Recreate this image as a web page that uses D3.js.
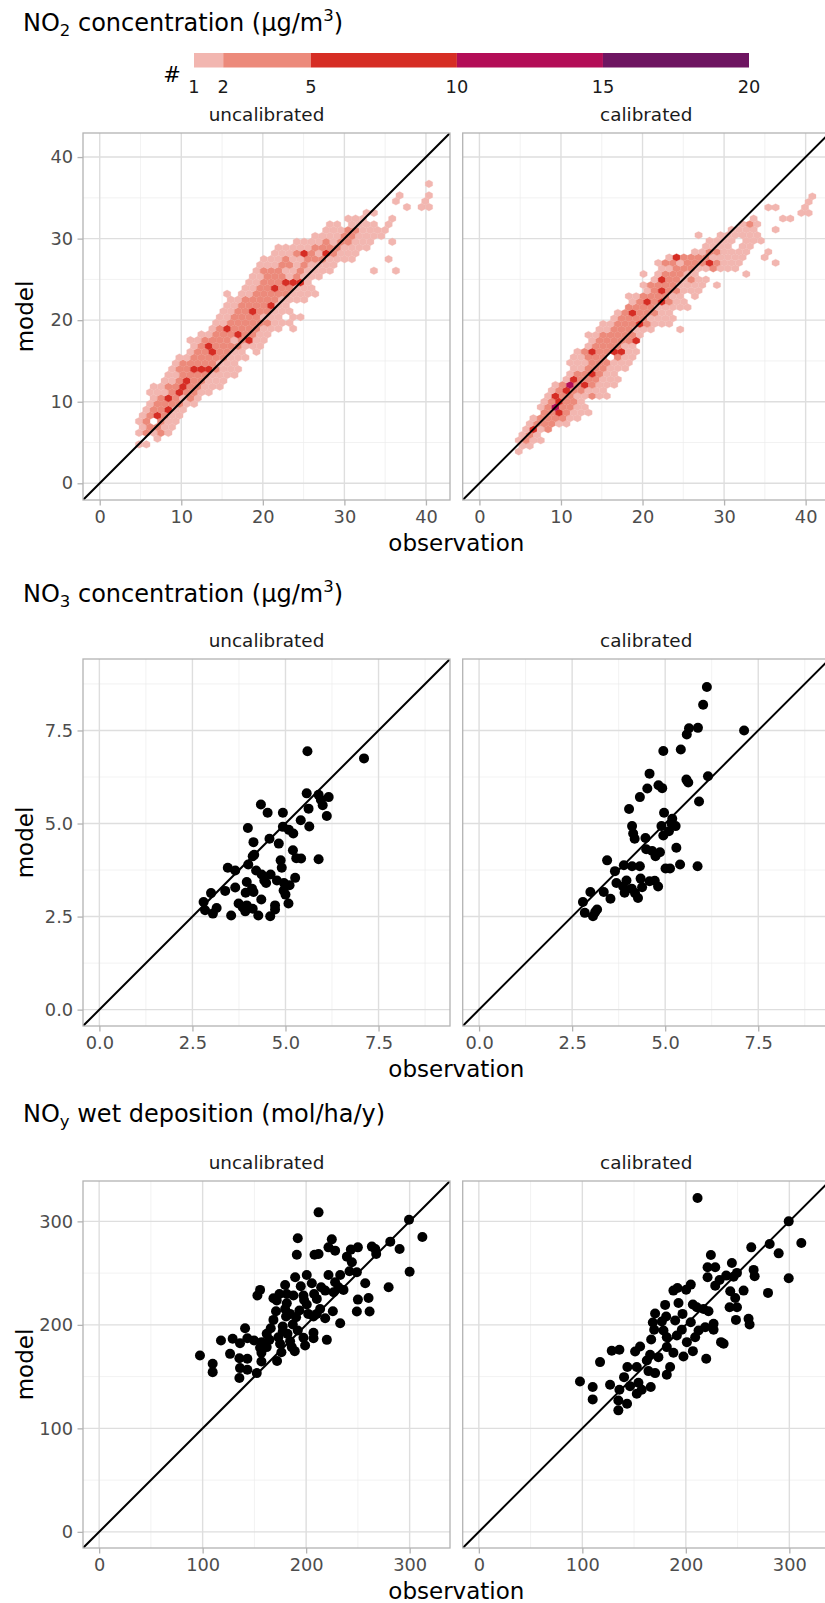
<!DOCTYPE html>
<html lang="en">
<head>
  <meta charset="UTF-8">
  <title>model vs observation</title>
  <script src="https://cdn.jsdelivr.net/npm/d3@7"></script>
  <style>
    body { margin: 0; background: #fff; }
    text { font-family: "DejaVu Sans", sans-serif; }
  </style>
</head>
<body>
<script>
// ---------- data ----------
var facetLabels = ["uncalibrated", "calibrated"];

// hexbin counts legend
var countBreaks = [1, 2, 5, 10, 15, 20];
var countColors = ["#f2b6b0", "#ec8a7b", "#d62d24", "#b30d57", "#6e1561"];
// count class -> representative count
var classCount = { "1": 1, "2": 3, "3": 7, "4": 12, "5": 17 };

var no2Ticks = [0, 10, 20, 30, 40];
var no3Ticks = [0, 2.5, 5, 7.5];
var noyTicks = [0, 100, 200, 300];

// hex bins: obs = obs0 + bw * (col + 0.5 * (row odd)), model = mod0 + rh * row
var no2UncalGrid = { obs0: 0.32, bw: 0.9, mod0: 4.76, rh: 0.71 };
var no2CalGrid = { obs0: 0.32, bw: 0.9, mod0: 3.9, rh: 0.68 };

// [row, first column, count class per column ('.' = empty)]
var no2UncalHex = [
  [0, 5, "11"], [1, 7, "1"], [2, 5, "12121"], [3, 5, "12211"],
  [4, 5, "12.211"], [5, 5, "123211"], [6, 6, "122311"], [7, 6, "1222211"],
  [8, 7, "1232121"], [9, 6, "111232211"], [10, 7, "1122322111"], [11, 8, "112322111"],
  [12, 9, "1122221111"], [13, 9, "1223332111"], [14, 10, "122222111"], [15, 10, "1122222111"],
  [16, 12, "12232211.1"], [17, 12, "1232222111"], [18, 12, "11222212311"], [19, 13, "1122232211"],
  [20, 15, "1232222111.1"], [21, 15, "11222222111"], [22, 16, "112222111.11"], [23, 16, "1122322111"],
  [24, 17, "112222311"], [25, 17, "11222221111"], [26, 17, "1.11222221111"], [27, 19, "1122322111"],
  [28, 20, "112223331"], [29, 20, "1122212111"], [30, 21, "12221121111.....1..1"], [31, 21, "11122121111"],
  [32, 22, "1112112221111....1"], [33, 23, "111232132111"], [34, 24, "1111122221111"], [35, 26, "11112122111..1"],
  [36, 29, "1111221111"], [37, 30, "111221111"], [38, 31, "11.1111.1"], [39, 33, "111...1"],
  [40, 36, "11"], [41, 41, "1.11"], [42, 40, "1...1"], [43, 40, "1...1"], [45, 44, "1"]
];

var no2CalHex = [
  [0, 5, "1"], [1, 5, "11"], [2, 5, "1211"], [3, 5, "121"],
  [4, 6, "1312"], [5, 6, "122211"], [6, 7, "1222211"], [7, 8, "2232111"],
  [8, 8, "1242211"], [9, 8, "123221"], [10, 9, "132211211"], [11, 9, "12322111"],
  [12, 10, "124232111"], [13, 11, "13222111"], [14, 12, "1223211"], [15, 12, "11222111"],
  [16, 12, "111222111"], [17, 12, "11222.211"], [18, 13, "123223311"], [19, 14, "1222211"],
  [20, 15, "1222223"], [21, 14, "11222221"], [22, 16, "11222111...1"], [23, 16, "1122232111"],
  [24, 18, "122221111"], [25, 18, "12322211"], [26, 20, "222211111"], [27, 20, "12323211"],
  [28, 20, "11222211.1"], [29, 22, "12322111"], [30, 22, "122221111.1"], [31, 23, "13221211"],
  [32, 22, "1.122211......1"], [33, 24, "11222112111"], [34, 24, "122122232111....1"], [35, 25, "13222211111..1"],
  [36, 29, "11221111..1"], [37, 30, "1111.11"], [38, 31, "1111.111"], [39, 29, "1..111111"],
  [40, 34, "1111..1"], [41, 35, "121"], [42, 37, "1...11"], [43, 43, "11"],
  [44, 39, "11...1"], [45, 44, "1"], [46, 45, "1"]
];

// [observation, model]
var no3Uncal = [
  [5.59, 6.94], [7.11, 6.75], [5.57, 5.81], [5.89, 5.77], [6.16, 5.71], [5.95, 5.64], [6.0, 5.49],
  [6.11, 5.2], [5.62, 5.4], [5.64, 4.92], [5.41, 5.09], [4.34, 5.51], [4.52, 5.29], [4.93, 5.29],
  [4.93, 4.91], [5.09, 4.83], [5.21, 4.73], [3.99, 4.88], [4.57, 4.59], [4.82, 4.46], [4.14, 4.5],
  [4.16, 4.16], [4.12, 4.12], [5.2, 4.28], [5.29, 4.07], [5.42, 4.06], [5.89, 4.04], [4.87, 4.01],
  [4.9, 3.81], [4.0, 3.9], [4.21, 3.74], [3.45, 3.81], [3.65, 3.74], [4.36, 3.63], [4.6, 3.63],
  [4.43, 3.47], [4.48, 3.4], [4.77, 3.47], [5.26, 3.54], [4.96, 3.4], [5.11, 3.34], [3.96, 3.43],
  [4.1, 3.25], [3.65, 3.28], [3.38, 3.19], [3.93, 3.14], [4.14, 3.16], [4.95, 3.2], [5.0, 3.09],
  [3.0, 3.13], [4.35, 2.96], [5.08, 2.85], [2.8, 2.89], [3.74, 2.85], [3.96, 2.8], [4.72, 2.8],
  [4.12, 2.71], [3.92, 2.64], [3.15, 2.73], [2.84, 2.67], [3.05, 2.58], [3.54, 2.53], [4.27, 2.53],
  [4.59, 2.51], [4.72, 2.69], [3.85, 2.75]
];

var no3Cal = [
  [6.12, 8.67], [6.02, 8.19], [5.64, 7.56], [5.88, 7.57], [5.58, 7.39], [7.12, 7.5], [4.95, 6.95],
  [5.42, 6.99], [4.58, 6.34], [5.57, 6.18], [5.62, 6.1], [6.15, 6.27], [4.82, 6.03], [4.92, 5.95],
  [4.52, 5.94], [4.32, 5.71], [4.03, 5.39], [5.91, 5.59], [4.97, 5.29], [5.19, 5.13], [5.17, 5.0],
  [5.28, 4.93], [4.9, 4.93], [4.11, 4.93], [5.1, 4.79], [4.14, 4.73], [4.95, 4.68], [4.18, 4.59],
  [4.47, 4.61], [5.3, 4.35], [4.49, 4.31], [4.65, 4.26], [4.86, 4.23], [4.74, 4.12], [3.44, 4.01],
  [5.4, 3.9], [5.87, 3.85], [3.89, 3.88], [4.11, 3.85], [4.32, 3.85], [5.01, 3.79], [5.13, 3.79],
  [3.65, 3.72], [4.34, 3.52], [3.96, 3.47], [3.69, 3.4], [4.58, 3.45], [4.72, 3.46], [4.81, 3.31],
  [4.1, 3.25], [3.87, 3.31], [4.38, 3.29], [2.99, 3.16], [3.35, 3.16], [3.91, 3.14], [4.19, 3.13],
  [3.53, 2.98], [4.27, 3.0], [2.79, 2.89], [3.17, 2.69], [2.84, 2.6], [3.06, 2.51], [3.12, 2.62]
];

var noyUncal = [
  [212, 308.7], [299.4, 301.6], [312.3, 284.9], [191.9, 283.6], [224.8, 282.6], [281.3, 280.4],
  [290.3, 273.3], [250, 274.9], [263.5, 275.6], [266.8, 273.3], [267.7, 268.5], [243.2, 272.7],
  [221.6, 274.9], [228, 271.7], [191, 267.8], [208.1, 267.8], [212, 268.5], [239.4, 265.9],
  [244.2, 260.5], [241.9, 251.8], [249, 250.8], [300, 251.4], [200.6, 248.2], [221.6, 248.2],
  [189.4, 246], [232.9, 248.2], [228, 241.2], [257.1, 240.2], [179.7, 238.6], [205.5, 240.2],
  [194.8, 237.3], [155.5, 233.8], [152.9, 228.3], [168.4, 225.7], [174.2, 229.9], [181.3, 229.9],
  [187.7, 228.3], [207.7, 229.9], [218.4, 233.1], [236.1, 233.8], [279.7, 236.3], [210.3, 225.1],
  [250, 224.4], [260.3, 226], [197.4, 228.3], [181.3, 220.9], [200.6, 219.6], [213.5, 215.4],
  [193.5, 213.8], [170.9, 213.2], [225.8, 213.2], [249, 212.9], [261.3, 212.9], [180.6, 208],
  [190.3, 207.4], [207.1, 208], [218.4, 206.4], [232.9, 201.6], [168.4, 204.8], [187.1, 200.3],
  [165.8, 196.8], [177.4, 198.4], [191.9, 194.5], [141, 196.8], [182, 191.3], [207.1, 192.3],
  [197.4, 187.5], [207.1, 187.1], [220, 185.5], [117.7, 184.9], [129, 186.5], [143.2, 187.1],
  [149.7, 184.9], [136.1, 182.3], [164.5, 185.5], [173.2, 188.1], [161.9, 178.5], [155.5, 177.8],
  [174.8, 181.7], [184.5, 184.2], [126.5, 172], [135.5, 167.8], [143.2, 167.2], [156.8, 173],
  [176.1, 173.6], [186.1, 178.5], [189, 174.6], [97.4, 170.4], [109.7, 162.4], [109.7, 154.3],
  [156.8, 164.6], [171.9, 165], [136.1, 158.2], [143.2, 156.6], [152.3, 153.4], [135.5, 148.6],
  [171.6, 223.5], [179.7, 215.4], [184.5, 210.6], [198, 224], [202, 210.6], [214.5, 236.3],
  [226.5, 231.5], [231.3, 236.3], [210.3, 210.6], [161.9, 191.3], [157, 183.3], [199, 180],
  [177.4, 193.5]
];

var noyCal = [
  [211.3, 322.5], [299.4, 300], [311.6, 279.1], [281, 278.1], [263.2, 274.9], [289.7, 269.1],
  [224.2, 267.5], [221, 255.6], [228.4, 255.6], [244.5, 259.8], [265.5, 253.1], [266.5, 246.9],
  [299.4, 245], [221, 246], [239, 247.6], [249.4, 250.2], [246.1, 246.6], [232.6, 243.4],
  [228.4, 237.9], [191.9, 235.7], [204.8, 238.9], [188, 233.1], [200.3, 233.9], [242.9, 232.5],
  [255.8, 233.1], [279.4, 230.9], [247.7, 226], [192.9, 221.2], [180, 219.3], [206.8, 219.6],
  [210.6, 217], [217.1, 215.4], [221.9, 213.2], [242.3, 217], [249.4, 217], [170.3, 211],
  [181, 208], [196.8, 210.6], [168.1, 202.3], [176.8, 203.2], [189.7, 204.2], [204.8, 202.6],
  [226.8, 201], [260.6, 205.8], [261.6, 200.3], [248.4, 204.8], [169.4, 195.2], [178.4, 194.5],
  [196.1, 195.2], [226.8, 195.2], [218.7, 197.7], [212.3, 194.5], [166.5, 185.9], [181.6, 188.1],
  [191.3, 189.7], [201, 183.3], [209, 188.1], [234, 183.3], [236.5, 181.7], [155.8, 179.1],
  [151, 174.3], [181.6, 178.5], [188, 173], [206.8, 174.6], [197.7, 169.5], [219.7, 167.2],
  [128.4, 174.9], [135.8, 175.9], [165.5, 171.1], [162.3, 165.6], [173.5, 168.8], [117.1, 164],
  [143.5, 159.2], [152.6, 159.2], [184.8, 159.2], [163.9, 155.3], [170.3, 153.4], [181.6, 151.8],
  [140.3, 149.5], [97.7, 145.3], [154.2, 144.1], [126.8, 142.1], [110, 139.9], [135.8, 137.3],
  [152.6, 133.4], [146.1, 140.8], [166.1, 139.9], [157.4, 137.3], [134.8, 127], [143.2, 123.8],
  [110, 128], [134.8, 117.4]
];

// ---------- layout ----------
var width = 825, height = 1603;
var S = 367;                       // panel size
var colX = [83, 462.7];            // left edge of each facet column
var tickLen = 5.5, tickPad = 4.4;

var svg = d3.select("body").append("svg")
  .attr("width", width)
  .attr("height", height)
  .style("display", "block");

var defs = svg.append("defs");

var fillScale = d3.scaleThreshold().domain(countBreaks.slice(1, 5)).range(countColors);

function hexCells(rows, grid) {
  var out = [];
  rows.forEach(function(r) {
    var row = r[0], c0 = r[1];
    r[2].split("").forEach(function(ch, k) {
      if (ch === ".") return;
      var c = c0 + k;
      out.push({
        obs: grid.obs0 + grid.bw * (c + (row % 2) * 0.5),
        model: grid.mod0 + grid.rh * row,
        count: classCount[ch]
      });
    });
  });
  return out;
}

var panelId = 0;
function drawPanel(cfg, col, layer) {
  var id = "clip" + (panelId++);
  var g = svg.append("g").attr("transform", "translate(" + colX[col] + "," + cfg.top + ")");
  var x = d3.scaleLinear().domain(cfg.domain).range([0, S]);
  var y = d3.scaleLinear().domain(cfg.domain).range([S, 0]);

  defs.append("clipPath").attr("id", id)
    .append("rect").attr("width", S).attr("height", S);

  g.append("rect").attr("width", S).attr("height", S).attr("fill", "#fff");

  // minor grid
  var minor = d3.pairs(cfg.ticks).map(function(p) { return (p[0] + p[1]) / 2; });
  var lastStep = cfg.ticks[1] - cfg.ticks[0];
  var extra = cfg.ticks[cfg.ticks.length - 1] + lastStep / 2;
  if (extra < cfg.domain[1]) minor.push(extra);
  g.selectAll(".mx").data(minor).enter().append("line")
    .attr("x1", x).attr("x2", x).attr("y1", 0).attr("y2", S)
    .attr("stroke", "#ededed").attr("stroke-width", 0.7);
  g.selectAll(".my").data(minor).enter().append("line")
    .attr("y1", y).attr("y2", y).attr("x1", 0).attr("x2", S)
    .attr("stroke", "#ededed").attr("stroke-width", 0.7);
  // major grid
  g.selectAll(".gx").data(cfg.ticks).enter().append("line")
    .attr("x1", x).attr("x2", x).attr("y1", 0).attr("y2", S)
    .attr("stroke", "#dedede").attr("stroke-width", 1.4);
  g.selectAll(".gy").data(cfg.ticks).enter().append("line")
    .attr("y1", y).attr("y2", y).attr("x1", 0).attr("x2", S)
    .attr("stroke", "#dedede").attr("stroke-width", 1.4);

  var plot = g.append("g").attr("clip-path", "url(#" + id + ")");

  if (layer.hex) {
    var grid = layer.grid;
    var w = x(grid.bw) - x(0);
    var h = (y(0) - y(grid.rh)) / 1.5;
    var hexPath = "M0," + (-h) + "L" + (w / 2) + "," + (-h / 2) + "L" + (w / 2) + "," + (h / 2) +
      "L0," + h + "L" + (-w / 2) + "," + (h / 2) + "L" + (-w / 2) + "," + (-h / 2) + "Z";
    plot.selectAll("path.hex").data(hexCells(layer.hex, grid)).enter().append("path")
      .attr("class", "hex")
      .attr("d", hexPath)
      .attr("transform", function(d) { return "translate(" + x(d.obs) + "," + y(d.model) + ")"; })
      .attr("fill", function(d) { return fillScale(d.count); })
      .attr("stroke", function(d) { return fillScale(d.count); })
      .attr("stroke-width", 0.3);
  } else {
    plot.selectAll("circle").data(layer.points).enter().append("circle")
      .attr("cx", function(d) { return x(d[0]); })
      .attr("cy", function(d) { return y(d[1]); })
      .attr("r", 5)
      .attr("fill", "#000");
  }

  // 1:1 line
  plot.append("line")
    .attr("x1", x(cfg.domain[0])).attr("y1", y(cfg.domain[0]))
    .attr("x2", x(cfg.domain[1])).attr("y2", y(cfg.domain[1]))
    .attr("stroke", "#000").attr("stroke-width", 2);

  g.append("rect").attr("width", S).attr("height", S)
    .attr("fill", "none").attr("stroke", "#b3b3b3").attr("stroke-width", 1.3);

  // axes
  var ax = g.append("g").attr("transform", "translate(0," + S + ")")
    .call(d3.axisBottom(x).tickValues(cfg.ticks).tickFormat(cfg.fmt).tickSize(tickLen).tickPadding(tickPad));
  styleAxis(ax);
  if (col === 0) {
    var ay = g.append("g")
      .call(d3.axisLeft(y).tickValues(cfg.ticks).tickFormat(cfg.fmt).tickSize(tickLen).tickPadding(tickPad));
    styleAxis(ay);
  }

  // strip label
  svg.append("text")
    .attr("x", colX[col] + S / 2).attr("y", cfg.top - 12)
    .attr("text-anchor", "middle")
    .attr("font-size", "18.4px").attr("fill", "#1a1a1a")
    .text(facetLabels[col]);
}

function styleAxis(a) {
  a.select(".domain").remove();
  a.selectAll(".tick line").attr("stroke", "#b3b3b3").attr("stroke-width", 1.3);
  a.selectAll(".tick text").attr("fill", "#4d4d4d").attr("font-size", "17.8px")
    .attr("font-family", "DejaVu Sans, sans-serif");
}

function sectionTitle(yBase, main, sub, rest, sup, tail) {
  var t = svg.append("text").attr("x", 23).attr("y", yBase)
    .attr("font-size", "24px").attr("fill", "#000");
  t.append("tspan").text(main);
  t.append("tspan").attr("font-size", "16.5px").attr("dy", 5).text(sub);
  t.append("tspan").attr("dy", -5).text(rest);
  if (sup) {
    t.append("tspan").attr("font-size", "16.5px").attr("dy", -10).text(sup);
    t.append("tspan").attr("dy", 10).text(tail);
  }
}

function axisTitles(top) {
  svg.append("text")
    .attr("transform", "translate(33," + (top + S / 2) + ") rotate(-90)")
    .attr("text-anchor", "middle").attr("font-size", "23px").attr("fill", "#000")
    .text("model");
  svg.append("text")
    .attr("x", (colX[0] + colX[1] + S) / 2).attr("y", top + S + 51)
    .attr("text-anchor", "middle").attr("font-size", "23px").attr("fill", "#000")
    .text("observation");
}

// ---------- section 1: NO2 hexbins ----------
sectionTitle(31, "NO", "2", " concentration (\u00b5g/m", "3", ")");

var lx = d3.scaleLinear().domain([countBreaks[0], countBreaks[countBreaks.length - 1]]).range([194, 749]);
var leg = svg.append("g");
leg.selectAll("rect").data(d3.pairs(countBreaks)).enter().append("rect")
  .attr("x", function(d) { return lx(d[0]); })
  .attr("width", function(d) { return lx(d[1]) - lx(d[0]); })
  .attr("y", 53).attr("height", 14.5)
  .attr("fill", function(d, i) { return countColors[i]; });
leg.selectAll("text.lab").data(countBreaks).enter().append("text")
  .attr("class", "lab")
  .attr("x", function(d) { return lx(d); }).attr("y", 93)
  .attr("text-anchor", "middle").attr("font-size", "17.8px").attr("fill", "#1a1a1a")
  .text(function(d) { return d; });
leg.append("text").attr("x", 172).attr("y", 82).attr("text-anchor", "middle")
  .attr("font-size", "21px").attr("fill", "#000").text("#");

var no2Cfg = { top: 133, domain: [-2.05, 42.95], ticks: no2Ticks, fmt: d3.format("d") };
drawPanel(no2Cfg, 0, { hex: no2UncalHex, grid: no2UncalGrid });
drawPanel(no2Cfg, 1, { hex: no2CalHex, grid: no2CalGrid });
axisTitles(no2Cfg.top);

// ---------- section 2: NO3 ----------
sectionTitle(602, "NO", "3", " concentration (\u00b5g/m", "3", ")");
var no3Cfg = { top: 659, domain: [-0.44, 9.42], ticks: no3Ticks, fmt: d3.format(".1f") };
drawPanel(no3Cfg, 0, { points: no3Uncal });
drawPanel(no3Cfg, 1, { points: no3Cal });
axisTitles(no3Cfg.top);

// ---------- section 3: NOy wet deposition ----------
sectionTitle(1122, "NO", "y", " wet deposition (mol/ha/y)");
var noyCfg = { top: 1181, domain: [-15.6, 339], ticks: noyTicks, fmt: d3.format("d") };
drawPanel(noyCfg, 0, { points: noyUncal });
drawPanel(noyCfg, 1, { points: noyCal });
axisTitles(noyCfg.top);
</script>
</body>
</html>
